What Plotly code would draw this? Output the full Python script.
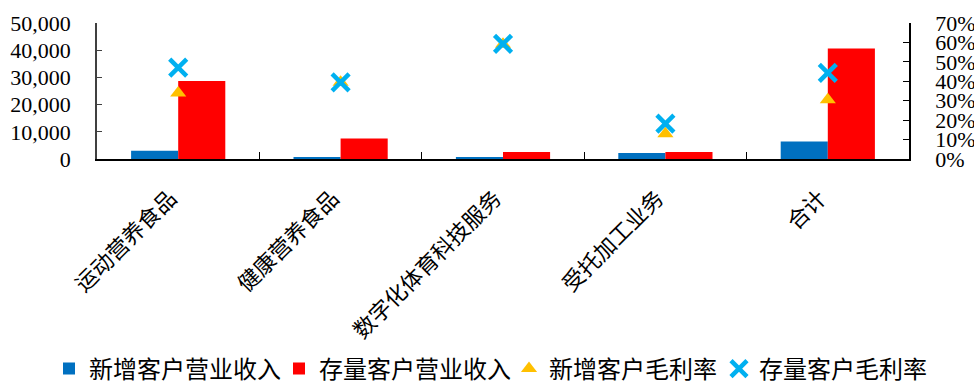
import plotly.graph_objects as go

categories = ["运动营养食品", "健康营养食品", "数字化体育科技服务", "受托加工业务", "合计"]
new_revenue = [3050, 450, 700, 2200, 6450]
old_revenue = [28700, 7550, 2550, 2550, 40650]
new_margin = [0.34, 0.395, 0.59, 0.13, 0.305]
old_margin = [0.47, 0.394, 0.593, 0.182, 0.443]

FONT = "Liberation Serif, Noto Sans CJK SC"
W, H = 974, 383

fig = go.Figure()
fig.add_trace(go.Bar(x=categories, y=new_revenue, name="新增客户营业收入", legend="legend",
                     marker=dict(color="#0070C0", line=dict(width=0))))
fig.add_trace(go.Bar(x=categories, y=old_revenue, name="存量客户营业收入", legend="legend2",
                     marker=dict(color="#FF0000", line=dict(width=0))))
fig.add_trace(go.Scatter(x=categories, y=new_margin, name="新增客户毛利率", yaxis="y2",
                         legend="legend3", mode="markers",
                         marker=dict(symbol="triangle-up", size=14, color="#FFC000")))
fig.add_trace(go.Scatter(x=categories, y=old_margin, name="存量客户毛利率", yaxis="y2",
                         legend="legend4", mode="markers",
                         marker=dict(symbol="x-thin-open", size=17, color="#00B0F0",
                                     line=dict(width=4.5, color="#00B0F0"))))


def leg(x_px):
    return dict(orientation="h", xref="container", yref="container",
                x=x_px / W, xanchor="left", y=1 - 369 / H, yanchor="middle",
                font=dict(size=24, family=FONT), itemwidth=30,
                bgcolor="rgba(0,0,0,0)")


fig.update_layout(
    width=W, height=H,
    margin=dict(l=97, r=65, t=23, b=224, autoexpand=False),
    paper_bgcolor="white", plot_bgcolor="white",
    font=dict(family=FONT, size=22, color="black"),
    barmode="group", bargap=0.42, bargroupgap=0,
    showlegend=True,
    legend=leg(49), legend2=leg(279), legend3=leg(509), legend4=leg(719),
    xaxis=dict(type="category", tickangle=-45, showline=True, linecolor="black",
               linewidth=1.5, ticks="inside", ticklen=7, tickcolor="black",
               tickson="boundaries", showgrid=False, ticklabelstandoff=16,
               ticklabelshift=-8, tickfont=dict(size=22), automargin=False),
    yaxis=dict(range=[0, 50000], dtick=10000, tickformat=",", showline=True,
               linecolor="#404040", linewidth=1.5, ticks="inside", ticklen=5,
               tickcolor="#404040", showgrid=False, zeroline=False,
               ticklabelstandoff=20, tickfont=dict(size=22), automargin=False),
    yaxis2=dict(range=[0, 0.7], dtick=0.1, tickformat=".0%", overlaying="y",
                side="right", showline=True, linecolor="black", linewidth=1.5,
                ticks="inside", ticklen=6, tickcolor="black", showgrid=False,
                zeroline=False, ticklabelstandoff=20, tickfont=dict(size=22),
                automargin=False),
)

fig.write_html("out.html")
